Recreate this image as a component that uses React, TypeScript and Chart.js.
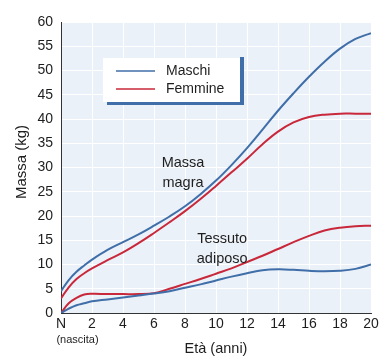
import React, { useEffect, useRef } from "react";
import { Chart, registerables } from "chart.js";

Chart.register(...registerables);

const ages = [0, 0.5, 1, 1.5, 2, 3, 4, 5, 6, 7, 8, 9, 10, 11, 12, 13, 14, 15, 16, 17, 18, 19, 20];

const maschiMagra = [4.5, 6.8, 8.5, 9.8, 11, 13, 14.6, 16.2, 18, 19.9, 22, 24.5, 27.3, 30.5, 34, 37.8, 41.7, 45.3, 48.7, 51.8, 54.5, 56.5, 57.7];
const femmineMagra = [3, 5.3, 7, 8.2, 9.2, 10.9, 12.5, 14.4, 16.5, 18.7, 21, 23.5, 26.2, 29, 31.8, 34.8, 37.4, 39.3, 40.4, 40.9, 41.1, 41.1, 41.1];
const maschiAdiposo = [0, 0.9, 1.6, 2.0, 2.4, 2.8, 3.2, 3.6, 4.0, 4.5, 5.2, 5.9, 6.7, 7.5, 8.2, 8.8, 9.0, 8.9, 8.7, 8.6, 8.7, 9.1, 10];
const femmineAdiposo = [0, 2.0, 3.1, 3.8, 3.95, 3.9, 3.9, 3.9, 4.1, 5.0, 6.0, 7.0, 8.1, 9.2, 10.5, 11.8, 13.2, 14.6, 15.9, 17.0, 17.6, 17.9, 18];

const seriesLabels = ["Maschi", "Femmine"];
const xTitle = "Età (anni)";
const yTitle = "Massa (kg)";
const birthLabel = "(nascita)";
const annotations = [
  { lines: ["Massa", "magra"], x: 7.87, y: 30.9 },
  { lines: ["Tessuto", "adiposo"], x: 10.4, y: 15.3 },
];

const BLUE = "#3f6ea8";
const RED = "#c8283a";
const FONT = "'Liberation Sans', Arial, sans-serif";
const TEXT = "#1e1e1e";

const pts = (vals: number[]) => vals.map((v, i) => ({ x: ages[i], y: v }));

const decorPlugin = {
  id: "decor",
  beforeDraw(chart: any) {
    const { ctx, chartArea } = chart;
    ctx.save();
    ctx.fillStyle = "#ebf1f9";
    ctx.fillRect(chartArea.left, chartArea.top, chartArea.right - chartArea.left, chartArea.bottom - chartArea.top);
    ctx.restore();
  },
  afterDraw(chart: any) {
    const { ctx, chartArea, scales } = chart;
    const xs = scales.x;
    const ys = scales.y;
    ctx.save();
    ctx.fillStyle = TEXT;
    ctx.font = `14.5px ${FONT}`;
    ctx.textAlign = "center";
    ctx.textBaseline = "middle";
    ctx.fillText(xTitle, (chartArea.left + chartArea.right) / 2, 349);
    ctx.save();
    ctx.translate(22, 162);
    ctx.rotate(-Math.PI / 2);
    ctx.font = `15px ${FONT}`;
    ctx.fillText(yTitle, 0, 0);
    ctx.restore();
    ctx.font = `11px ${FONT}`;
    ctx.fillText(birthLabel, xs.getPixelForValue(0) + 16.5, 340);
    ctx.font = `14.5px ${FONT}`;
    for (const a of annotations) {
      const px = xs.getPixelForValue(a.x);
      const py = ys.getPixelForValue(a.y);
      a.lines.forEach((l, i) => ctx.fillText(l, px, py + i * 20));
    }
    const bx = 103, by = 58, bw = 137, bh = 44;
    ctx.fillStyle = "#ffffff";
    ctx.fillRect(bx, by, bw, bh);
    ctx.fillStyle = BLUE;
    ctx.fillRect(bx + bw, by - 1, 4, bh + 4);
    ctx.fillRect(bx + 4, by + bh, bw, 3);
    const colors = [BLUE, RED];
    ctx.font = `14px ${FONT}`;
    ctx.textAlign = "left";
    seriesLabels.forEach((lab, i) => {
      const ly = 71 + i * 18;
      ctx.strokeStyle = colors[i];
      ctx.lineWidth = 1.6;
      ctx.beginPath();
      ctx.moveTo(116, ly);
      ctx.lineTo(155, ly);
      ctx.stroke();
      ctx.fillStyle = TEXT;
      ctx.fillText(lab, 166, ly);
    });
    ctx.restore();
  },
};

export default function App() {
  const ref = useRef<HTMLCanvasElement>(null);
  useEffect(() => {
    if (!ref.current) return;
    const common = { pointRadius: 0, borderWidth: 2, fill: false, tension: 0.4 };
    const chart = new Chart(ref.current, {
      type: "line",
      data: {
        datasets: [
          { label: seriesLabels[0], data: pts(maschiMagra), borderColor: BLUE, ...common },
          { label: seriesLabels[1], data: pts(femmineMagra), borderColor: RED, ...common },
          { label: seriesLabels[0] + " adiposo", data: pts(maschiAdiposo), borderColor: BLUE, ...common },
          { label: seriesLabels[1] + " adiposo", data: pts(femmineAdiposo), borderColor: RED, ...common },
        ],
      },
      options: {
        animation: false,
        responsive: true,
        maintainAspectRatio: false,
        layout: { padding: { left: 0, top: 22, right: 15, bottom: 0 } },
        plugins: { legend: { display: false }, tooltip: { enabled: false } },
        scales: {
          x: {
            type: "linear",
            min: 0,
            max: 20,
            afterFit: (s: any) => { s.height = 50; },
            ticks: {
              stepSize: 2,
              padding: 3,
              color: TEXT,
              font: { family: FONT, size: 14 },
              callback: (v: any) => (v === 0 ? "N" : String(v)),
            },
            grid: { color: "#ffffff", lineWidth: 1, drawTicks: false },
            border: { color: "#333333", width: 1 },
          },
          y: {
            min: 0,
            max: 60,
            afterFit: (s: any) => { s.width = 61; },
            ticks: { stepSize: 5, padding: 8, color: TEXT, font: { family: FONT, size: 14 } },
            grid: { color: "#ffffff", lineWidth: 1, drawTicks: false },
            border: { color: "#333333", width: 1 },
          },
        },
      },
      plugins: [decorPlugin],
    });
    return () => chart.destroy();
  }, []);
  return (
    <div style={{ position: "fixed", left: 0, top: 0, width: 386, height: 363, background: "#fff" }}>
      <canvas ref={ref} />
    </div>
  );
}
